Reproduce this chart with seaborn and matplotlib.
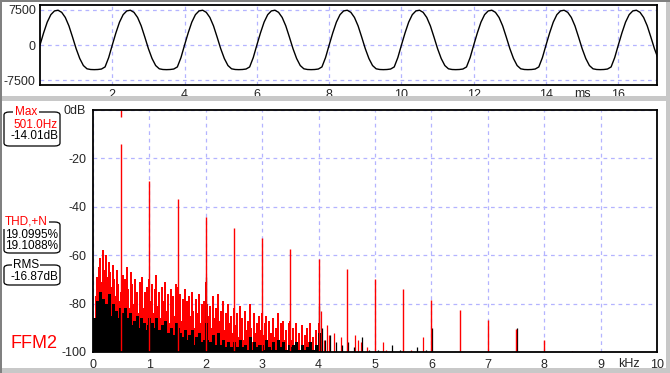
import numpy as np
import matplotlib
matplotlib.use("Agg")
import matplotlib.pyplot as plt
import seaborn as sns
import pandas as pd
from matplotlib.patches import FancyBboxPatch, Rectangle

sns.set_style("white")
plt.rcParams['font.family'] = ['Liberation Sans', 'DejaVu Sans']
plt.rcParams['font.size'] = 8

#%% data

# one period (2 ms, 0.1 ms steps) of the time signal, repeated over the window
wave_cycle = [0, 2600, 4900, 6500, 7300, 7450, 7000, 5900, 4100, 1700,
              -800, -2900, -4400, -5100, -5250, -5280, -5250, -5150, -4700, -2700]
wave = (wave_cycle * 9)[:172]
wave_step = 0.1  # ms

# harmonics of the 501 Hz tone (red channel), dB
harm_freq = [0.5, 1.0, 1.5, 2.0, 2.5, 3.0, 3.5, 4.0, 4.5, 5.0, 5.5, 6.0, 6.5, 7.0, 7.5, 8.0, 8.5]
harm_red = [-14.0, -29.3, -36.8, -44.2, -48.6, -52.8, -57.4, -61.6, -65.7, -69.8,
            -74.1, -78.5, -82.6, -86.8, -90.6, -95.0, -99.5]

# noise floor, 0 .. 4 kHz in 25 Hz bins
noise_step = 0.025  # kHz
red_noise = [
    -92, -86, -77, -69, -65, -61, -71, -58, -66, -60, -69, -63, -67, -73, -64, -70, -77, -66, -72, -79,
    -75, -68, -78, -70, -65, -74, -82, -67, -72, -80, -70, -75, -84, -71, -77, -69, -82, -75, -73, -81,
    -70, -79, -72, -84, -74, -68, -81, -75, -86, -73, -79, -71, -83, -76, -88, -74, -80, -77, -85, -72,
    -73, -82, -76, -87, -78, -74, -89, -79, -77, -85, -75, -83, -90, -78, -84, -76, -88, -80, -91, -79,
    -71, -80, -85, -81, -90, -77, -86, -82, -93, -76, -87, -83, -79, -91, -84, -94, -80, -88, -85, -92,
    -82, -89, -84, -94, -81, -90, -86, -95, -83, -91, -87, -80, -90, -96, -84, -92, -88, -97, -85, -91,
    -84, -93, -88, -85, -96, -87, -92, -97, -86, -94, -90, -84, -98, -88, -93, -87, -95, -91, -99, -88,
    -87, -95, -90, -98, -88, -96, -92, -99, -89, -97, -93, -100, -90, -96, -88, -98, -94, -100, -91, -97,
    -88]
black_noise = [
    -100, -86, -88, -79, -84, -75, -90, -78, -82, -80, -87, -76, -85, -89, -80, -92, -83, -86, -94, -82,
    -88, -84, -92, -82, -86, -94, -84, -89, -95, -87, -91, -85, -97, -90, -86, -93, -88, -96, -91, -89,
    -86, -92, -88, -97, -90, -86, -94, -91, -98, -89, -93, -87, -96, -92, -99, -90, -95, -93, -98, -88,
    -90, -96, -92, -99, -94, -91, -98, -95, -93, -99, -91, -97, -100, -94, -98, -92, -99, -96, -100, -95,
    -88, -95, -99, -96, -100, -93, -98, -97, -100, -92, -99, -97, -95, -100, -98, -100, -96, -100, -98, -100,
    -96, -100, -98, -100, -95, -99, -98, -100, -97, -100, -99, -94, -100, -99, -96, -100, -98, -100, -97, -100,
    -97, -100, -99, -95, -100, -98, -100, -99, -96, -100, -99, -95, -100, -98, -100, -96, -100, -99, -100, -97,
    -98, -100, -97, -100, -96, -100, -99, -100, -97, -100, -99, -100, -98, -100, -96, -100, -99, -100, -97, -100,
    -92]

# sparse lines above 4 kHz
red_extra_freq = [4.05, 4.10, 4.15, 4.19, 4.28, 4.39, 4.65, 4.70, 4.76, 4.86, 5.14, 5.20, 5.63, 5.85]
red_extra_db = [-83, -95, -89, -93, -92, -94, -93, -95, -96, -98, -96, -99, -99, -94]
black_extra_freq = [2.01, 4.01, 4.06, 4.12, 4.20, 4.30, 4.42, 4.52, 4.62, 4.77, 4.90, 5.05, 5.30, 5.45,
                    5.75, 5.90, 6.01, 7.51]
black_extra_db = [-69, -81, -90, -95, -93, -96, -97, -96, -98, -94, -99, -99, -97, -99,
                  -98, -99, -90, -90]

#%% figure
W, H = 670, 373
fig = plt.figure(figsize=(W / 100, H / 100), dpi=100)
fig.patch.set_facecolor('white')

def fx(px):
    return px / W

def fy(py):
    return 1 - py / H

grid_kw = dict(color='#b4b4ff', ls=(0, (3, 3)), lw=0.9)

# ---- time signal
ax1 = fig.add_axes([fx(40), fy(85), fx(657 - 40), fy(5) - fy(85)])
df_wave = pd.DataFrame({'t': np.arange(len(wave)) * wave_step, 'v': wave})
sns.lineplot(data=df_wave, x='t', y='v', ax=ax1, color='black', lw=1.0)
ax1.set_xlim(0, 17.07)
ax1.set_ylim(-8571, 8571)
ax1.set_xticks([2, 4, 6, 8, 10, 12, 14, 16])
ax1.set_yticks([7500, 0, -7500])
ax1.set_yticklabels(['7500', '0', '-7500'])
ax1.grid(True, **grid_kw)
ax1.tick_params(length=0, pad=3, labelsize=9)
ax1.set_xlabel('')
ax1.set_ylabel('')
for s in ax1.spines.values():
    s.set_color('black')
    s.set_linewidth(1.3)
fig.text(fx(582), fy(94), 'ms', ha='center', va='center', fontsize=9)

# ---- spectrum
ax2 = fig.add_axes([fx(93), fy(352), fx(657 - 93), fy(110) - fy(352)])
nf = np.arange(len(red_noise)) * noise_step
ax2.vlines(nf, -100, red_noise, color='red', lw=1.1, antialiased=False)
ax2.vlines(red_extra_freq, -100, red_extra_db, color='red', lw=0.9)
ax2.vlines(nf, -100, black_noise, color='black', lw=1.0, antialiased=False)
ax2.vlines(black_extra_freq, -100, black_extra_db, color='black', lw=0.9)
ax2.vlines(harm_freq, -100, harm_red, color='red', lw=1.0)
ax2.vlines([harm_freq[0]], -3, 0, color='red', lw=1.0)
ax2.set_xlim(0, 10)
ax2.set_ylim(-100, 0)
ax2.set_xticks(range(0, 11))
ax2.set_yticks([0, -20, -40, -60, -80, -100])
ax2.set_yticklabels(['0dB', '-20', '-40', '-60', '-80', '-100'])
ax2.grid(True, **grid_kw)
ax2.set_axisbelow(True)
ax2.tick_params(length=3, width=1, pad=2, labelsize=9, direction='out')
for s in ax2.spines.values():
    s.set_color('black')
    s.set_linewidth(1.3)
fig.text(fx(629), fy(364), 'kHz', ha='center', va='center', fontsize=9)

# ---- readout boxes on the left
def readout(top, bottom, title, title_color, lines):
    box = FancyBboxPatch((fx(4), fy(bottom)), fx(56), fy(top) - fy(bottom),
                         boxstyle='round,pad=0,rounding_size=0.008',
                         transform=fig.transFigure, fc='white', ec='black', lw=0.9)
    fig.add_artist(box)
    fig.text(fx(26), fy(top), title, color=title_color, ha='center', va='center',
             fontsize=8.5, bbox=dict(fc='white', ec='none', pad=1))
    for txt, col, py in lines:
        fig.text(fx(58), fy(py), txt, color=col, ha='right', va='center', fontsize=8.5)

readout(112, 146, 'Max', 'red', [('501.0Hz', 'red', 125), ('-14.01dB', 'black', 136)])
readout(222, 253, 'THD,+N', 'red', [('19.0995%', 'black', 235), ('19.1088%', 'black', 246)])
readout(265, 285, 'RMS', 'black', [('-16.87dB', 'black', 277)])
fig.text(fx(10), fy(344), 'FFM2', color='red', ha='left', va='center', fontsize=13)

# ---- window frame
frame = '#c8c8c8'
fig.add_artist(Rectangle((0, fy(101)), 1, fy(96) - fy(101), transform=fig.transFigure,
                         fc=frame, ec='none'))
fig.add_artist(Rectangle((0, 0), 1, fy(368), transform=fig.transFigure, fc=frame, ec='none'))
fig.add_artist(Rectangle((fx(666), 0), fx(4), 1, transform=fig.transFigure, fc=frame, ec='none'))
fig.add_artist(Rectangle((0, 0), fx(1.5), 1, transform=fig.transFigure, fc='#808080', ec='none'))
fig.add_artist(Rectangle((0, fy(1.5)), 1, fy(0) - fy(1.5), transform=fig.transFigure,
                         fc='#808080', ec='none'))

fig.savefig('out.png', dpi=100)
